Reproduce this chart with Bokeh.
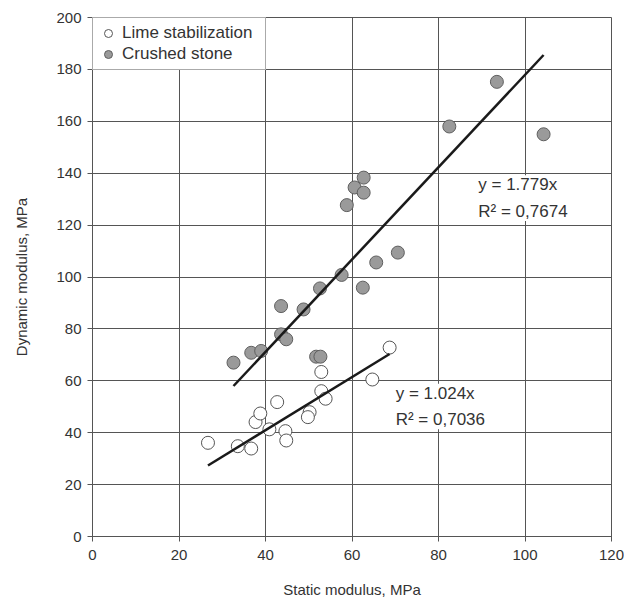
from bokeh.plotting import figure
from bokeh.models import Legend, LegendItem, Label, FixedTicker
from bokeh.embed import file_html
from bokeh.resources import INLINE

# ---- data ----
lime_x = [26.7, 33.6, 36.7, 37.7, 38.8, 40.9, 42.7, 44.6, 44.8, 50.2, 49.8, 52.9, 53.9, 52.9, 64.7, 68.7]
lime_y = [36.1, 34.8, 33.9, 44.1, 47.4, 41.3, 51.8, 40.6, 37.0, 47.9, 46.0, 56.0, 53.1, 63.4, 60.5, 72.8]

stone_x = [32.6, 36.7, 39.0, 43.6, 44.8, 43.6, 48.8, 52.6, 57.6, 62.5, 65.6, 70.6, 51.7, 52.7,
           58.8, 60.6, 62.7, 62.7, 93.5, 82.5, 104.3]
stone_y = [67.0, 70.8, 71.5, 77.9, 76.0, 88.8, 87.5, 95.6, 100.8, 95.9, 105.6, 109.4, 69.3, 69.3,
           127.7, 134.5, 138.3, 132.5, 175.2, 158.0, 155.0]

lime_slope = 1.024
stone_slope = 1.779
lime_r2 = "0,7036"
stone_r2 = "0,7674"

series_names = ["Lime stabilization", "Crushed stone"]
x_ticks = [0, 20, 40, 60, 80, 100, 120]
y_ticks = [0, 20, 40, 60, 80, 100, 120, 140, 160, 180, 200]

FONT = "Liberation Sans"
TXT = "#333333"
GRID = "#555555"

p = figure(width=624, height=601, x_range=(0, 120), y_range=(0, 200),
           output_backend="svg", toolbar_location=None,
           min_border_left=92, min_border_right=13, min_border_top=17, min_border_bottom=65)

p.background_fill_color = "white"
p.outline_line_color = GRID
p.outline_line_width = 1

for ax, ticks in ((p.xaxis[0], x_ticks), (p.yaxis[0], y_ticks)):
    ax.ticker = FixedTicker(ticks=ticks)
    ax.minor_tick_line_color = None
    ax.major_tick_in = 5
    ax.major_tick_out = 5
    ax.major_tick_line_color = GRID
    ax.axis_line_color = GRID
    ax.major_label_text_font = FONT
    ax.major_label_text_font_size = "15px"
    ax.major_label_text_color = TXT
    ax.axis_label_text_font = FONT
    ax.axis_label_text_font_size = "15px"
    ax.axis_label_text_font_style = "normal"
    ax.axis_label_text_color = TXT

p.xaxis.axis_label = "Static modulus, MPa"
p.yaxis.axis_label = "Dynamic modulus, MPa"
p.xaxis.major_label_standoff = 8
p.yaxis.major_label_standoff = 6
p.xaxis.axis_label_standoff = 18
p.yaxis.axis_label_standoff = 23

p.xgrid.ticker = FixedTicker(ticks=x_ticks)
p.ygrid.ticker = FixedTicker(ticks=y_ticks)
for g in (p.xgrid, p.ygrid):
    g.grid_line_color = GRID
    g.grid_line_width = 1
    g.grid_line_alpha = 1

r_lime = p.scatter(lime_x, lime_y, size=13, marker="circle",
                   fill_color="white", line_color="#555555", line_width=1)
r_stone = p.scatter(stone_x, stone_y, size=13, marker="circle",
                    fill_color="#9a9a9a", line_color="#5f5f5f", line_width=1)

# trend lines y = k x over the data range
lx = [min(lime_x), max(lime_x)]
sx = [min(stone_x), max(stone_x)]
p.line(lx, [lime_slope * v for v in lx], line_color="#1a1a1a", line_width=2.5)
p.line(sx, [stone_slope * v for v in sx], line_color="#1a1a1a", line_width=2.5)

legend = Legend(items=[LegendItem(label=series_names[0], renderers=[r_lime]),
                       LegendItem(label=series_names[1], renderers=[r_stone])],
                location="top_left", margin=0, padding=5, spacing=1,
                glyph_width=20, glyph_height=20, label_height=20, label_width=138,
                label_standoff=4, border_line_color=GRID, border_line_width=1,
                background_fill_color="white", background_fill_alpha=1,
                label_text_font=FONT, label_text_font_size="17px", label_text_color=TXT)
p.add_layout(legend)

lab_stone = Label(x=89.2, y=130.4, text=f"y = {stone_slope}x\nR² = {stone_r2}",
                  text_align="left", text_baseline="middle", text_line_height=1.4,
                  text_font=FONT, text_font_size="17px", text_color=TXT,
                  background_fill_color="white", background_fill_alpha=1)
lab_lime = Label(x=70.1, y=50.1, text=f"y = {lime_slope}x\nR² = {lime_r2}",
                 text_align="left", text_baseline="middle", text_line_height=1.4,
                 text_font=FONT, text_font_size="17px", text_color=TXT,
                 background_fill_color="white", background_fill_alpha=1)
p.add_layout(lab_stone)
p.add_layout(lab_lime)

open("out.html", "w").write(file_html(p, INLINE))
